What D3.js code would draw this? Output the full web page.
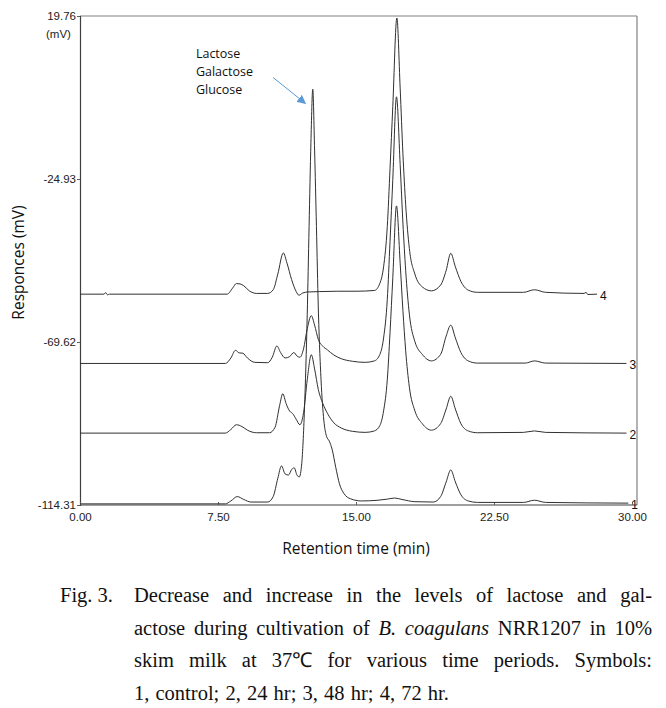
<!DOCTYPE html>
<html>
<head>
<meta charset="utf-8">
<script src="https://cdn.jsdelivr.net/npm/d3@7"></script>
<style>
html,body{margin:0;padding:0;background:#fff;}
svg{display:block;}
</style>
</head>
<body>
<svg id="chart" width="666" height="708"></svg>
<script>
// ---------- data ----------
const xTicks = [0, 7.5, 15, 22.5, 30];
const yTicks = [19.76, -24.93, -69.62, -114.31];
const seriesNames = ["1", "2", "3", "4"];
const peakNames = ["Lactose", "Galactose", "Glucose"];

// retention time (min), response (mV)
const trace1 = [[0,-114.0],[7.9,-114.0],[8.2,-113.2],[8.55,-112.0],[8.9,-112.8],[9.3,-113.5],[10.2,-113.5],[10.5,-112],[10.75,-107],[10.95,-103.6],[11.15,-105.8],[11.33,-106.1],[11.5,-104.6],[11.64,-104.1],[11.8,-106.2],[11.92,-106.6],[12.05,-103],[12.2,-88],[12.35,-62],[12.45,-38],[12.55,-15],[12.65,-0.3],[12.75,-17],[12.85,-38],[12.95,-60],[13.1,-80],[13.25,-91],[13.4,-95.5],[13.55,-96.8],[13.7,-99],[13.9,-104],[14.1,-108.5],[14.35,-111.2],[14.7,-112.6],[15.3,-113.2],[16.2,-113],[16.7,-112.7],[17.1,-112.4],[17.5,-112.8],[18.2,-113.4],[19.2,-113.5],[19.6,-112],[19.9,-108],[20.15,-104.7],[20.4,-108],[20.7,-111.5],[21.1,-113.2],[21.6,-113.6],[24.1,-113.6],[24.7,-113.0],[25.3,-113.6],[29.8,-113.8]];
const trace2 = [[0,-94.6],[7.9,-94.6],[8.2,-93.6],[8.5,-92.3],[8.8,-92.8],[9.1,-93.8],[9.6,-94.5],[10.3,-94.5],[10.6,-93],[10.85,-87],[11.02,-83.8],[11.2,-86.5],[11.4,-88.6],[11.55,-89.2],[11.75,-90.8],[11.95,-92.3],[12.15,-89],[12.35,-80],[12.57,-73.1],[12.75,-77],[12.95,-82.6],[13.2,-86.5],[13.45,-89.2],[13.8,-91.8],[14.2,-93.2],[14.8,-94.1],[15.5,-94.4],[16.0,-94],[16.3,-92.5],[16.5,-88.5],[16.7,-80],[16.85,-67],[17.0,-52],[17.2,-32.3],[17.4,-48],[17.55,-61],[17.7,-72],[17.9,-82],[18.2,-88.5],[18.6,-92],[19.1,-93.8],[19.6,-92],[19.9,-88],[20.15,-84.5],[20.4,-88],[20.7,-92],[21.1,-94],[21.6,-94.5],[24.1,-94.4],[24.7,-94.0],[25.3,-94.4],[29.7,-94.6]];
const trace3 = [[0,-75.5],[7.9,-75.5],[8.2,-74],[8.45,-71.9],[8.65,-72.6],[8.85,-72.7],[9.1,-74],[9.5,-75.2],[10.2,-75.3],[10.45,-73.8],[10.7,-70.7],[10.9,-72.5],[11.15,-74],[11.4,-73.6],[11.62,-72.5],[11.8,-73.5],[11.95,-73.8],[12.15,-71.5],[12.35,-66],[12.57,-62.4],[12.75,-65],[12.95,-68.9],[13.2,-70.8],[13.45,-71.8],[13.8,-73.2],[14.2,-74.2],[14.8,-74.9],[15.5,-75.2],[16.0,-74.8],[16.3,-73],[16.5,-68.5],[16.7,-58],[16.85,-42],[17.0,-25],[17.2,-2.4],[17.4,-21],[17.55,-37],[17.7,-50],[17.9,-62],[18.2,-69.5],[18.6,-73],[19.1,-74.8],[19.6,-73],[19.9,-68],[20.15,-65.0],[20.4,-68.5],[20.7,-72.5],[21.1,-74.8],[21.6,-75.4],[24.2,-75.4],[24.7,-74.8],[25.3,-75.4],[29.7,-75.5]];
const trace4 = [[0,-56.5],[1.3,-56.5],[1.4,-56.1],[1.5,-56.7],[1.6,-56.5],[8.0,-56.5],[8.3,-54.8],[8.5,-53.6],[8.7,-53.7],[8.9,-54.2],[9.2,-55.6],[9.6,-56.3],[10.2,-56.3],[10.5,-55.3],[10.75,-51],[11.05,-45.2],[11.25,-48],[11.5,-52.5],[11.75,-55.8],[11.9,-56.8],[12.1,-56.2],[12.4,-55.9],[13,-55.8],[14,-55.7],[15,-55.7],[16.0,-55.5],[16.3,-53.5],[16.5,-49],[16.7,-38],[16.85,-22],[17.0,-5],[17.22,19.2],[17.4,0],[17.55,-18],[17.7,-32],[17.9,-44],[18.2,-51],[18.6,-54.5],[19.1,-55.6],[19.6,-54],[19.9,-50],[20.15,-45.3],[20.4,-49],[20.7,-53],[21.1,-55.4],[21.6,-56],[24.1,-56],[24.7,-55.3],[25.3,-56],[27.4,-56.3],[27.5,-56.0],[27.6,-56.6],[28.1,-56.5]];
const traces = [trace1, trace2, trace3, trace4];

const captionLines = [
  [{t:"Decrease and increase in the levels of lactose and gal-"}],
  [{t:"actose during cultivation of "},{t:"B. coagulans",i:true},{t:" NRR1207 in 10%"}],
  [{t:"skim milk at 37℃ for various time periods. Symbols:"}],
  [{t:"1, control; 2, 24 hr; 3, 48 hr; 4, 72 hr."}]
];

// ---------- drawing ----------
const svg = d3.select("#chart");
const x = d3.scaleLinear().domain([0, 30]).range([80, 632]);
const y = d3.scaleLinear().domain([-114.31, 19.76]).range([505, 16]);
const frameRight = x(30) + 5;
const fmt = d => d.toFixed(2);

// frame (top/right)
svg.append("line").attr("x1", x(0)).attr("x2", frameRight).attr("y1", y(19.76)).attr("y2", y(19.76))
  .attr("stroke", "#808080").attr("stroke-width", 1.2);
svg.append("line").attr("x1", frameRight).attr("x2", frameRight).attr("y1", y(19.76)).attr("y2", y(-114.31))
  .attr("stroke", "#808080").attr("stroke-width", 1.2);

// y axis
const yAxis = d3.axisLeft(y).tickValues(yTicks).tickFormat(fmt).tickSize(3).tickPadding(1);
const gy = svg.append("g").attr("transform", `translate(${x(0)},0)`).call(yAxis);
gy.select(".domain").attr("stroke", "#404040").attr("stroke-width", 1.2);
gy.selectAll(".tick line").attr("stroke", "#606060");
gy.selectAll(".tick text").attr("font-family", "Liberation Sans, Arial, sans-serif").attr("font-size", 11.5).attr("fill", "#222");

// x axis
const xAxis = d3.axisBottom(x).tickValues(xTicks).tickFormat(fmt).tickSize(-3).tickPadding(8);
const gx = svg.append("g").attr("transform", `translate(0,${y(-114.31)})`).call(xAxis);
gx.select(".domain").attr("stroke", "#404040").attr("stroke-width", 1.2).attr("d", `M${x(0)},0H${frameRight}`);
gx.selectAll(".tick line").attr("stroke", "#606060");
gx.selectAll(".tick text").attr("font-family", "Liberation Sans, Arial, sans-serif").attr("font-size", 11.5).attr("fill", "#222");

// unit under top tick
svg.append("text").attr("x", 46).attr("y", 38).text("(mV)")
  .attr("font-family", "Liberation Sans, Arial, sans-serif").attr("font-size", 11.5).attr("fill", "#222");

// axis titles
svg.append("text").attr("transform", `translate(24,${(y(-24.93)+y(-69.62))/2+2}) rotate(-90)`)
  .attr("text-anchor", "middle").text("Responces (mV)")
  .attr("font-family", "Open Sans, Noto Sans, sans-serif").attr("font-size", 15.5).attr("fill", "#111");
svg.append("text").attr("x", (x(0)+x(30))/2).attr("y", 554).attr("text-anchor", "middle").text("Retention time (min)")
  .attr("font-family", "Open Sans, Noto Sans, sans-serif").attr("font-size", 15.5).attr("fill", "#111");

// traces
const line = d3.line().x(d => x(d[0])).y(d => y(d[1])).curve(d3.curveMonotoneX);
svg.append("g").selectAll("path").data(traces).join("path")
  .attr("d", line).attr("fill", "none").attr("stroke", "#303030").attr("stroke-width", 1);

// trace labels
svg.append("g").selectAll("text").data(traces).join("text")
  .attr("x", d => x(d[d.length-1][0]) + 3)
  .attr("y", d => y(d[d.length-1][1]) + 6)
  .text((d, i) => seriesNames[i])
  .attr("font-family", "Liberation Sans, Arial, sans-serif").attr("font-size", 12).attr("fill", "#111");

// peak annotation
svg.append("defs").append("marker").attr("id", "ah").attr("viewBox", "0 0 10 10")
  .attr("refX", 9).attr("refY", 5).attr("markerWidth", 9).attr("markerHeight", 9)
  .attr("markerUnits", "userSpaceOnUse").attr("orient", "auto")
  .append("path").attr("d", "M0,0L10,5L0,10z").attr("fill", "#5b9bd5");
svg.append("line").attr("x1", x(10.49)).attr("y1", y(2.9)).attr("x2", x(12.25)).attr("y2", y(-4.2))
  .attr("stroke", "#5b9bd5").attr("stroke-width", 1).attr("marker-end", "url(#ah)");
svg.append("g").selectAll("text").data(peakNames).join("text")
  .attr("x", x(6.3)).attr("y", (d, i) => 58 + i * 18).text(d => d)
  .attr("font-family", "Open Sans, Noto Sans, sans-serif").attr("font-size", 12.5).attr("fill", "#111");

// caption (justified)
const capFont = "Liberation Serif, Times New Roman, serif";
const capSize = 20.5;
const capLeft = 134, capRight = 652, capY0 = 602, capDy = 32.5;
svg.append("text").attr("x", 60).attr("y", capY0).text("Fig. 3.")
  .attr("font-family", capFont).attr("font-size", capSize).attr("fill", "#111");
captionLines.forEach((segs, li) => {
  const words = [];
  segs.forEach(s => s.t.split(" ").filter(w => w.length).forEach(w => words.push({w, i: !!s.i})));
  const g = svg.append("g");
  const nodes = words.map(wd => g.append("text").text(wd.w)
    .attr("font-family", capFont).attr("font-size", capSize).attr("fill", "#111")
    .attr("font-style", wd.i ? "italic" : "normal").attr("y", capY0 + li * capDy));
  const widths = nodes.map(n => n.node().getComputedTextLength());
  const total = d3.sum(widths);
  const justify = li < captionLines.length - 1;
  const gap = justify ? (capRight - capLeft - total) / (words.length - 1) : capSize * 0.3;
  let cx = capLeft;
  nodes.forEach((n, k) => { n.attr("x", cx); cx += widths[k] + gap; });
});
</script>
</body>
</html>
